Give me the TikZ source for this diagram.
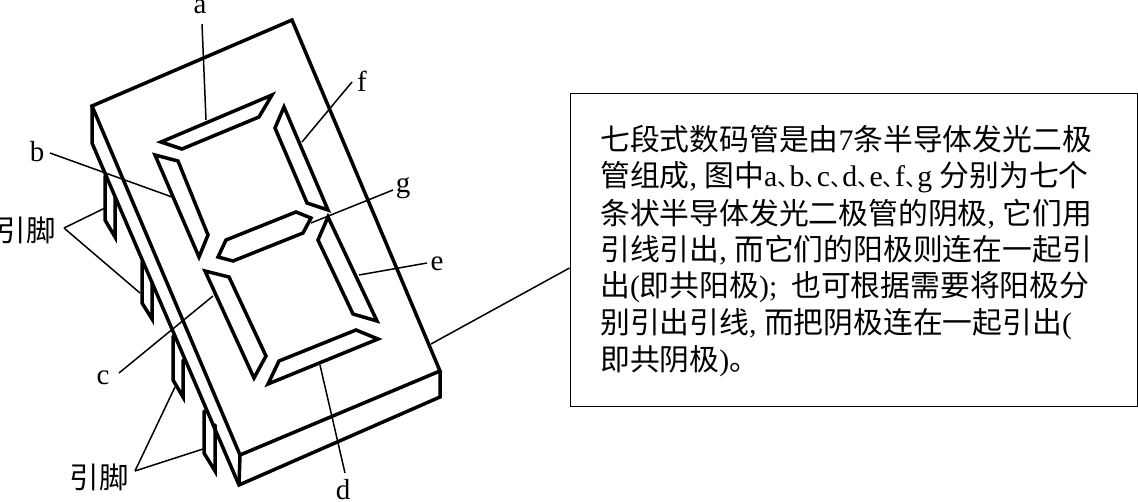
\documentclass[tikz,border=0pt]{standalone}
\usepackage{fontspec}
\setmainfont{Liberation Serif}
\newfontfamily\cjk{Noto Sans CJK SC}
\newcommand{\C}[1]{{\cjk #1}}
\newcommand{\Dn}{\makebox[12.3pt][l]{\cjk\fontsize{22}{22}\selectfont 、}}
\tikzset{
  thickline/.style={line width=3.5pt,line join=miter,line cap=round},
  thinline/.style={line width=1.5pt},
  seglabel/.style={font=\fontsize{29}{29}\selectfont,inner sep=0pt},
  pinlabel/.style={font=\cjk\fontsize{29.5}{29.5}\selectfont,inner sep=0pt},
  textline/.style={anchor=west,inner sep=0pt,font=\fontsize{29.8}{29.8}\selectfont},
  infobox/.style={draw,line width=1.5pt,anchor=north west,minimum width=567.5pt,minimum height=313pt,inner sep=0pt}
}
\begin{document}
\begin{tikzpicture}[x=1pt,y=-1pt]
\useasboundingbox (0,0) rectangle (1138,502);
% body
\coordinate (tl) at (92,106); \coordinate (tt) at (292,20); \coordinate (tr) at (440,371);
\coordinate (tb) at (240,455); \coordinate (bl) at (92,143); \coordinate (bb) at (239,485);
\coordinate (br) at (440,397);
% pins
\draw[thickline] (105,176) -- (105,220) -- (115,237) -- (115,198);
\draw[thickline] (142,262) -- (142,303) -- (152,319) -- (152,282);
\draw[thickline] (173,336) -- (173,380) -- (183,397) -- (183,360);
\draw[thickline] (204,411) -- (204,453) -- (215,471) -- (215,425);
\draw[thickline] (tl) -- (tt) -- (tr) -- (tb) -- cycle;
\draw[thickline] (tl) -- (bl) -- (bb) -- (br) -- (tr);
\draw[thickline] (tb) -- (bb);
% segments
\draw[thickline] (161,142) -- (272,95) -- (259,117) -- (182,149) -- cycle;
\draw[thickline] (284,107) -- (275,128) -- (307,203) -- (328,210) -- cycle;
\draw[thickline] (155,155) -- (178,161) -- (208,235) -- (199,257) -- cycle;
\draw[thickline] (218,257) -- (226,240) -- (296,212) -- (311,218) -- (303,233) -- (233,261) -- cycle;
\draw[thickline] (205,271) -- (229,277) -- (266,356) -- (254,378) -- cycle;
\draw[thickline] (328,217) -- (318,240) -- (353,314) -- (377,321) -- cycle;
\draw[thickline] (268,384) -- (279,361) -- (356,330) -- (378,339) -- cycle;
% labels
\node[seglabel] (la) at (200,7) {a};
\node[seglabel] (lf) at (362,81) {f};
\node[seglabel] (lg) at (403,188) {g};
\node[seglabel] (le) at (437,264) {e};
\node[seglabel] (lb) at (37,152) {b};
\node[seglabel] (lc) at (103,378) {c};
\node[seglabel] (ld) at (343,490) {d};
\node[pinlabel,anchor=east] (pu) at (56,230) {引脚};
\node[pinlabel] (pl) at (99,477) {引脚};
% connector ends
\coordinate (a1) at (202,24); \coordinate (a2) at (206,120);
\coordinate (f1) at (352,82); \coordinate (f2) at (302,142);
\coordinate (g1) at (393,190); \coordinate (g2) at (311,223);
\coordinate (e1) at (427,263); \coordinate (e2) at (359,275);
\coordinate (b1) at (50,153); \coordinate (b2) at (172,197);
\coordinate (c1) at (119,373); \coordinate (c2) at (213,296);
\coordinate (d1) at (320,365); \coordinate (d2) at (345,473);
\coordinate (u0) at (64,228); \coordinate (u1) at (105,208); \coordinate (u2) at (140,293);
\coordinate (v0) at (135,471); \coordinate (v1) at (175,387); \coordinate (v2) at (203,449);
\coordinate (m1) at (431,344);
\foreach \p/\q in {a1/a2,f1/f2,g1/g2,e1/e2,b1/b2,c1/c2,d1/d2,u0/u1,u0/u2,v0/v1,v0/v2}
  \draw[thinline] (\p) -- (\q);
% box
\node[infobox] (box) at (569.5,93) {};
\draw[thinline] (m1) -- (box.west |- 0,268);
\node[textline] (t1) at (600,139) {\C{七段式数码管是由}7\C{条半导体发光二极}};
\node[textline] (t2) at (600,177) {\C{管组成}, \C{图中}a\Dn b\Dn c\Dn d\Dn e\Dn f\Dn g \C{分别为七个}};
\node[textline] (t3) at (600,214) {\C{条状半导体发光二极管的阴极}, \C{它们用}};
\node[textline] (t4) at (600,250) {\C{引线引出}, \C{而它们的阳极则连在一起引}};
\node[textline] (t5) at (600,287) {\C{出}(\C{即共阳极});\hspace{14pt}\C{也可根据需要将阳极分}};
\node[textline] (t6) at (600,324) {\C{别引出引线}, \C{而把阴极连在一起引出}(};
\node[textline] (t7) at (600,361) {\C{即共阴极})\C{。}};
\end{tikzpicture}
\end{document}
